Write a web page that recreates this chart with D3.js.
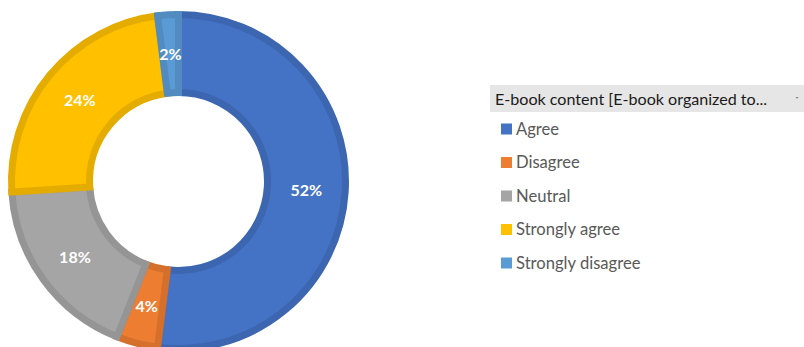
<!DOCTYPE html>
<html>
<head>
<meta charset="utf-8">
<script src="https://cdn.jsdelivr.net/npm/d3@7/dist/d3.min.js"></script>
<style>
  html, body { margin: 0; padding: 0; background: #ffffff; }
  svg { display: block; }
</style>
</head>
<body>
<svg id="chart" width="804" height="347"></svg>
<script>
// Survey responses for "E-book content [E-book organized to...]"
const categories = ["Agree", "Disagree", "Neutral", "Strongly agree", "Strongly disagree"];
const percentages = [52, 4, 18, 24, 2];
const fillColors = ["#4472C4", "#ED7D31", "#A5A5A5", "#FFC000", "#5B9BD5"];
const borderColors = ["#3D66B0", "#D5702C", "#959595", "#E5AC00", "#528BBF"];
const legendTitle = "E-book content [E-book organized to...";

const svg = d3.select("#chart");
const W = 804, H = 347;

const cx = 178.5, cy = 181.5;
const borderW = 7;
const outerR = 170.5 - borderW / 2;
const innerR = 85.5 + borderW / 2;

const data = categories.map((c, i) => ({ category: c, value: percentages[i], i }));

const pie = d3.pie().sort(null).value(d => d.value);
const arc = d3.arc().innerRadius(innerR).outerRadius(outerR);
const labelArc = d3.arc().innerRadius(85.5).outerRadius(170.5);

const color = d3.scaleOrdinal().domain(categories).range(fillColors);
const border = d3.scaleOrdinal().domain(categories).range(borderColors);

const g = svg.append("g").attr("transform", `translate(${cx},${cy})`);
const arcs = pie(data);

g.selectAll("path.slice")
  .data(arcs)
  .join("path")
  .attr("class", "slice")
  .attr("d", arc)
  .attr("fill", d => color(d.data.category))
  .attr("stroke", d => border(d.data.category))
  .attr("stroke-width", borderW)
  .attr("stroke-linejoin", "miter");

g.selectAll("text.pct")
  .data(arcs)
  .join("text")
  .attr("class", "pct")
  .attr("transform", d => `translate(${labelArc.centroid(d)})`)
  .attr("text-anchor", "middle")
  .attr("dominant-baseline", "central")
  .attr("font-family", "Lato, 'Open Sans', sans-serif")
  .attr("font-weight", "bold")
  .attr("font-size", 16)
  .attr("fill", "#ffffff")
  .text(d => d.data.value + "%");

// Legend header bar
const lg = svg.append("g");
lg.append("rect")
  .attr("x", 490).attr("y", 85)
  .attr("width", W - 490).attr("height", 27)
  .attr("fill", "#E6E6E6");
lg.append("text")
  .attr("x", 495).attr("y", 104.5)
  .attr("font-family", "Lato, 'Open Sans', sans-serif")
  .attr("font-size", 16.1)
  .attr("fill", "#1a1a1a")
  .text(legendTitle);
lg.append("path")
  .attr("d", "M795.5,97 L798.5,97 L797,98.8 Z")
  .attr("fill", "#7f7f7f");

// Legend entries
const rowY = d3.scalePoint().domain(categories).range([129, 263]);
const items = lg.selectAll("g.item")
  .data(categories)
  .join("g")
  .attr("class", "item")
  .attr("transform", c => `translate(501,${rowY(c)})`);
items.append("rect")
  .attr("x", 0).attr("y", -5.5)
  .attr("width", 11).attr("height", 11)
  .attr("fill", c => color(c));
items.append("text")
  .attr("x", 15).attr("y", 5.8)
  .attr("font-family", "Lato, 'Open Sans', sans-serif")
  .attr("font-size", 16.6)
  .attr("fill", "#595959")
  .text(c => c);
</script>
</body>
</html>
